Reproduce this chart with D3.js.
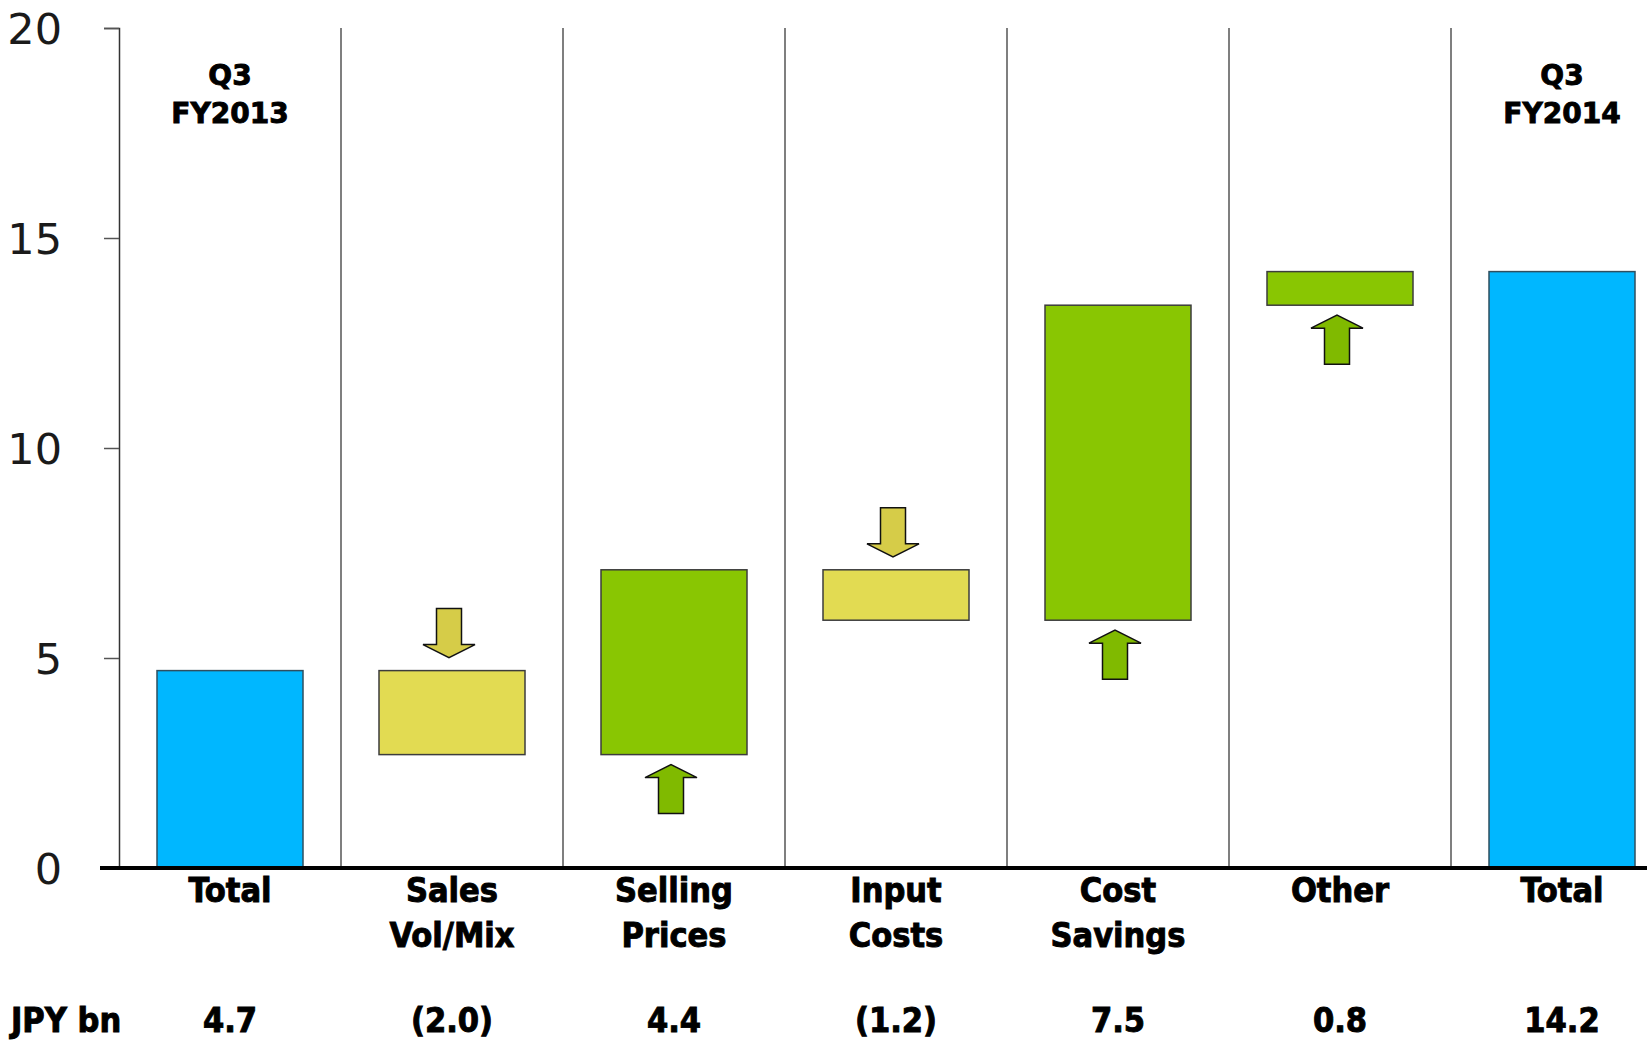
<!DOCTYPE html>
<html>
<head>
<meta charset="utf-8">
<script src="https://cdn.jsdelivr.net/npm/d3@7"></script>
<style>
  body { margin: 0; background: #fff; }
  text { font-family: "DejaVu Sans Condensed", "DejaVu Sans", sans-serif; }
  .heavy { stroke: #000; stroke-width: 0.9px; paint-order: stroke; }
</style>
</head>
<body>
<div id="chart"></div>
<script>
// waterfall: Q3 FY2013 -> Q3 FY2014 bridge (JPY bn)
var categories = [["Total"], ["Sales", "Vol/Mix"], ["Selling", "Prices"], ["Input", "Costs"], ["Cost", "Savings"], ["Other"], ["Total"]];
var values = [4.7, -2.0, 4.4, -1.2, 7.5, 0.8, 14.2];
var kinds = ["total", "delta", "delta", "delta", "delta", "delta", "total"];
var valueLabels = ["4.7", "(2.0)", "4.4", "(1.2)", "7.5", "0.8", "14.2"];
var headerLabels = [["Q3", "FY2013"], null, null, null, null, null, ["Q3", "FY2014"]];
var yTicks = [0, 5, 10, 15, 20];

var svgWidth = 1647;
var svgHeight = 1041;

var svg = d3.select("#chart")
  .append("svg")
  .attr("width", svgWidth)
  .attr("height", svgHeight);

var yScale = d3.scaleLinear()
  .domain([0, 20])
  .range([868, 28]);

var xScale = d3.scaleBand()
  .domain(d3.range(categories.length))
  .range([119, 119 + 222 * categories.length])
  .paddingInner(0)
  .paddingOuter(0);

var bw = xScale.bandwidth();
var barW = 146;

// build start/end for each step
var level = 0;
var steps = values.map(function(v, i) {
  var s;
  if (kinds[i] === "total") {
    s = { i: i, lo: 0, hi: v, kind: "total", v: v };
    level = v;
  } else {
    var from = level;
    level = level + v;
    s = { i: i, lo: Math.min(from, level), hi: Math.max(from, level), kind: v < 0 ? "neg" : "pos", v: v, from: from };
  }
  return s;
});

var fills = { total: "#00B7FF", neg: "#E2DB52", pos: "#89C602" };
var arrowFills = { neg: "#D6CC48", pos: "#80BA00" };

// separators
svg.append("g")
  .selectAll("line")
  .data(d3.range(1, categories.length))
  .enter()
  .append("line")
  .attr("x1", d => xScale(d))
  .attr("x2", d => xScale(d))
  .attr("y1", yScale(20))
  .attr("y2", yScale(0))
  .attr("stroke", "#555")
  .attr("stroke-width", 1.5);

// y axis
var leftAxis = d3.axisLeft(yScale)
  .tickValues(yTicks)
  .tickSize(15)
  .tickPadding(42);

var yAxisG = svg.append("g")
  .attr("transform", "translate(119,0)")
  .call(leftAxis);

yAxisG.select(".domain").attr("stroke", "#333").attr("stroke-width", 1.5);
yAxisG.selectAll(".tick line").attr("stroke", "#555").attr("stroke-width", 1.5);
yAxisG.selectAll(".tick text")
  .style("font-family", "'DejaVu Sans', sans-serif")
  .attr("font-size", "43px")
  .attr("fill", "#1a1a1a")
  .attr("dy", "0.36em");

// bars
svg.append("g")
  .selectAll("rect")
  .data(steps)
  .enter()
  .append("rect")
  .attr("x", d => xScale(d.i) + (bw - barW) / 2)
  .attr("width", barW)
  .attr("y", d => yScale(d.hi))
  .attr("height", d => yScale(d.lo) - yScale(d.hi))
  .attr("fill", d => fills[d.kind])
  .attr("stroke", d => d.kind === "total" ? "#2f4f5f" : "#3c3c3c")
  .attr("stroke-width", 1.5);

// arrows
function arrowPoints(cx, tip, dir) {
  // dir = 1 pointing down, -1 pointing up
  var pts = [
    [cx - 12.5, tip - 49 * dir],
    [cx + 12.5, tip - 49 * dir],
    [cx + 12.5, tip - 13 * dir],
    [cx + 26, tip - 13 * dir],
    [cx, tip],
    [cx - 26, tip - 13 * dir],
    [cx - 12.5, tip - 13 * dir]
  ];
  return pts.map(p => p.join(",")).join(" ");
}

svg.append("g")
  .selectAll("polygon")
  .data(steps.filter(d => d.kind !== "total"))
  .enter()
  .append("polygon")
  .attr("points", function(d) {
    var cx = xScale(d.i) + bw / 2 - 3;
    if (d.kind === "neg") return arrowPoints(cx, yScale(d.hi) - 13, 1);
    return arrowPoints(cx, yScale(d.lo) + 10, -1);
  })
  .attr("fill", d => arrowFills[d.kind])
  .attr("stroke", "#111")
  .attr("stroke-width", 1.5)
  .attr("stroke-linejoin", "miter");

// baseline
svg.append("line")
  .attr("x1", 100)
  .attr("x2", svgWidth)
  .attr("y1", yScale(0))
  .attr("y2", yScale(0))
  .attr("stroke", "#000")
  .attr("stroke-width", 4);

// category labels
var catText = svg.append("g")
  .selectAll("text")
  .data(categories)
  .enter()
  .append("text")
  .attr("class", "heavy")
  .attr("text-anchor", "middle")
  .attr("font-size", "34px")
  .attr("font-weight", "bold")
  .attr("fill", "#000");

catText.selectAll("tspan")
  .data((d, i) => d.map(s => ({ s: s, i: i })))
  .enter()
  .append("tspan")
  .attr("x", d => xScale(d.i) + bw / 2)
  .attr("y", (d, j) => 902 + j * 45)
  .text(d => d.s);

// header labels
var headG = svg.append("g");
headerLabels.forEach(function(lines, i) {
  if (!lines) return;
  lines.forEach(function(s, j) {
    headG.append("text")
      .attr("class", "heavy")
      .attr("x", xScale(i) + bw / 2)
      .attr("y", 85 + j * 38)
      .attr("text-anchor", "middle")
      .style("font-family", "'DejaVu Sans', sans-serif")
      .attr("font-size", "28px")
      .attr("font-weight", "bold")
      .text(s);
  });
});

// bottom value row
svg.append("text")
  .attr("class", "heavy")
  .attr("x", 11)
  .attr("y", 1032)
  .attr("font-size", "34px")
  .attr("font-weight", "bold")
  .text("JPY bn");

svg.append("g")
  .selectAll("text")
  .data(valueLabels)
  .enter()
  .append("text")
  .attr("class", "heavy")
  .attr("x", (d, i) => xScale(i) + bw / 2)
  .attr("y", 1032)
  .attr("text-anchor", "middle")
  .attr("font-size", "34px")
  .attr("font-weight", "bold")
  .text(d => d);
</script>
</body>
</html>
